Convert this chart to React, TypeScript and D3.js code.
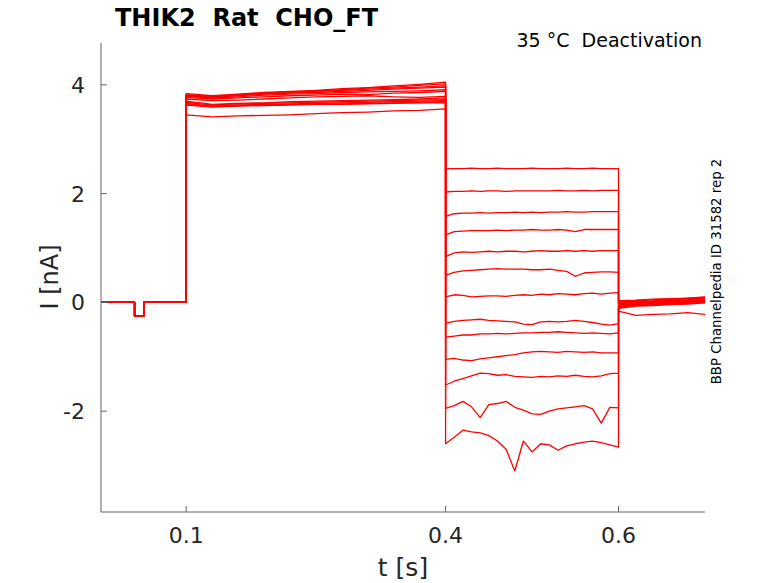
import React from 'react';
import * as d3 from 'd3';

// holding / prepulse part, shared by all sweeps
const preT = [0.0015, 0.02, 0.0403, 0.0403, 0.051, 0.051, 0.075, 0.1];
const preV = [0.0, 0.0, 0.0, -0.25, -0.25, 0.01, 0.01, 0.0];

// activation step 0.1 - 0.4 s
const stepT = [0.1, 0.13, 0.16, 0.19, 0.22, 0.25, 0.28, 0.31, 0.34, 0.37, 0.4];
const stepV = [
  [3.84, 3.8, 3.83, 3.86, 3.88, 3.9, 3.93, 3.95, 3.98, 4.01, 4.05],
  [3.82, 3.79, 3.82, 3.85, 3.87, 3.89, 3.91, 3.94, 3.96, 3.99, 4.02],
  [3.81, 3.78, 3.81, 3.84, 3.86, 3.88, 3.9, 3.92, 3.94, 3.96, 3.98],
  [3.8, 3.77, 3.8, 3.83, 3.85, 3.86, 3.88, 3.9, 3.92, 3.94, 3.96],
  [3.79, 3.76, 3.78, 3.81, 3.83, 3.84, 3.86, 3.87, 3.88, 3.89, 3.91],
  [3.77, 3.74, 3.76, 3.78, 3.8, 3.81, 3.83, 3.82, 3.85, 3.86, 3.88],
  [3.74, 3.71, 3.72, 3.74, 3.76, 3.78, 3.79, 3.8, 3.78, 3.77, 3.79],
  [3.7, 3.64, 3.66, 3.67, 3.69, 3.7, 3.71, 3.72, 3.73, 3.74, 3.76],
  [3.68, 3.63, 3.65, 3.66, 3.67, 3.68, 3.69, 3.7, 3.71, 3.72, 3.73],
  [3.66, 3.61, 3.63, 3.64, 3.65, 3.66, 3.67, 3.68, 3.69, 3.7, 3.71],
  [3.65, 3.6, 3.62, 3.63, 3.64, 3.65, 3.65, 3.66, 3.67, 3.68, 3.69],
  [3.63, 3.59, 3.61, 3.62, 3.63, 3.64, 3.64, 3.65, 3.66, 3.67, 3.67],
  [3.45, 3.41, 3.43, 3.44, 3.45, 3.47, 3.49, 3.5, 3.52, 3.53, 3.56],
];

// test pulses 0.4 - 0.6 s
const testT = [
  0.4, 0.41, 0.42, 0.43, 0.44, 0.45, 0.46, 0.47, 0.48, 0.49, 0.5,
  0.51, 0.52, 0.53, 0.54, 0.55, 0.56, 0.57, 0.58, 0.59, 0.6,
];
const testV = [
  [2.46, 2.46, 2.46, 2.47, 2.46, 2.46, 2.47, 2.46, 2.46, 2.46, 2.47, 2.46, 2.46, 2.46, 2.47, 2.46, 2.46, 2.47, 2.46, 2.46, 2.46],
  [2.03, 2.04, 2.04, 2.05, 2.04, 2.05, 2.05, 2.04, 2.05, 2.05, 2.05, 2.05, 2.05, 2.06, 2.05, 2.05, 2.06, 2.05, 2.06, 2.06, 2.06],
  [1.58, 1.63, 1.64, 1.64, 1.65, 1.64, 1.65, 1.65, 1.66, 1.65, 1.66, 1.65, 1.66, 1.66, 1.67, 1.66, 1.66, 1.67, 1.67, 1.67, 1.67],
  [1.24, 1.3, 1.31, 1.32, 1.32, 1.32, 1.33, 1.32, 1.33, 1.33, 1.34, 1.33, 1.33, 1.34, 1.33, 1.3, 1.34, 1.34, 1.34, 1.34, 1.34],
  [0.84, 0.91, 0.93, 0.92, 0.93, 0.94, 0.93, 0.94, 0.94, 0.93, 0.94, 0.95, 0.94, 0.94, 0.95, 0.94, 0.95, 0.94, 0.95, 0.95, 0.95],
  [0.5, 0.55, 0.58, 0.59, 0.6, 0.61, 0.62, 0.61, 0.61, 0.61, 0.6, 0.6, 0.61, 0.59, 0.57, 0.48, 0.54, 0.55, 0.56, 0.56, 0.55],
  [0.1, 0.14, 0.13, 0.1, 0.11, 0.12, 0.12, 0.11, 0.13, 0.14, 0.13, 0.15, 0.14, 0.16, 0.15, 0.14, 0.16, 0.17, 0.15, 0.17, 0.18],
  [-0.38, -0.35, -0.33, -0.32, -0.31, -0.33, -0.34, -0.35, -0.36, -0.4, -0.41, -0.36, -0.35, -0.36, -0.35, -0.33, -0.35, -0.37, -0.4, -0.42, -0.39],
  [-0.64, -0.62, -0.6, -0.6, -0.58, -0.58, -0.57, -0.58, -0.57, -0.56, -0.56, -0.55, -0.55, -0.54, -0.55, -0.56, -0.57, -0.56, -0.57, -0.58, -0.56],
  [-1.05, -1.03, -1.06, -1.07, -1.04, -1.02, -1.0, -0.98, -0.96, -0.93, -0.91, -0.9, -0.91, -0.92, -0.9, -0.91, -0.92, -0.91, -0.93, -0.93, -0.93],
  [-1.52, -1.45, -1.4, -1.35, -1.3, -1.31, -1.34, -1.33, -1.36, -1.37, -1.38, -1.36, -1.37, -1.35, -1.36, -1.34, -1.36, -1.37, -1.35, -1.31, -1.3],
  [-1.95, -1.9, -1.82, -1.92, -2.12, -1.88, -1.86, -1.82, -1.93, -1.98, -2.05, -2.06, -2.0, -1.96, -1.94, -1.92, -1.9, -1.96, -2.22, -1.93, -1.94],
  [-2.6, -2.48, -2.35, -2.38, -2.4, -2.45, -2.55, -2.7, -3.1, -2.55, -2.75, -2.6, -2.62, -2.72, -2.64, -2.6, -2.57, -2.55, -2.58, -2.62, -2.66],
];

// tail 0.6 - 0.7 s
const tailT = [0.6, 0.62, 0.64, 0.66, 0.68, 0.7];
const tailV = [
  [-0.16, -0.24, -0.22, -0.21, -0.19, -0.22],
  [0.03, 0.04, 0.06, 0.07, 0.08, 0.1],
  [0.01, 0.03, 0.05, 0.06, 0.08, 0.09],
  [0.0, 0.02, 0.03, 0.05, 0.07, 0.08],
  [-0.02, 0.01, 0.02, 0.04, 0.05, 0.07],
  [-0.03, 0.0, 0.01, 0.03, 0.04, 0.06],
  [-0.05, -0.01, 0.0, 0.02, 0.03, 0.05],
  [-0.06, -0.02, -0.01, 0.01, 0.02, 0.04],
  [-0.07, -0.03, -0.02, 0.0, 0.01, 0.03],
  [-0.08, -0.04, -0.03, -0.01, 0.0, 0.02],
  [-0.09, -0.05, -0.04, -0.02, -0.01, 0.01],
  [-0.1, -0.06, -0.05, -0.03, -0.02, 0.0],
  [-0.11, -0.07, -0.06, -0.04, -0.03, -0.01],
];

const xTicks = [0.1, 0.4, 0.6];
const yTicks = [4, 2, 0, -2];

const W = 778;
const H = 583;
const left = 101, right = 705, top = 43, bottom = 512;

export default function App() {
  const x = d3.scaleLinear().domain([0.0015, 0.7]).range([left, right]);
  const y = d3.scaleLinear().domain([-3.855, 4.77]).range([bottom, top]);

  const line = d3
    .line<[number, number]>()
    .x((d) => x(d[0]))
    .y((d) => y(d[1]));

  const sweeps = testV.map((tv, i) => {
    const pts: [number, number][] = [];
    preT.forEach((t, j) => pts.push([t, preV[j]]));
    stepT.forEach((t, j) => pts.push([t, stepV[i][j]]));
    testT.forEach((t, j) => pts.push([t, tv[j]]));
    tailT.forEach((t, j) => pts.push([t, tailV[i][j]]));
    return pts;
  });

  const font = 'DejaVu Sans, sans-serif';
  const axisCol = '#666666';
  const textCol = '#262626';

  return (
    <svg
      width={W}
      height={H}
      style={{ position: 'fixed', left: 0, top: 0, background: '#fff' }}
      fontFamily={font}
    >
      <rect width={W} height={H} fill="#fff" />
      <defs>
        <clipPath id="plot">
          <rect x={left} y={top} width={right - left} height={bottom - top} />
        </clipPath>
      </defs>

      {/* traces */}
      <g clipPath="url(#plot)">
        {sweeps.map((pts, i) => (
          <path key={i} d={line(pts) || ''} fill="none" stroke="#ff0000" strokeWidth={1.3} strokeLinejoin="round" />
        ))}
      </g>

      {/* axes */}
      <line x1={left} y1={top} x2={left} y2={bottom} stroke={axisCol} strokeWidth={1} />
      <line x1={left} y1={bottom} x2={right} y2={bottom} stroke={axisCol} strokeWidth={1} />
      {xTicks.map((t) => (
        <g key={t}>
          <line x1={x(t)} y1={bottom} x2={x(t)} y2={bottom - 6} stroke={axisCol} />
          <text x={x(t)} y={543} textAnchor="middle" fontSize={22} fill={textCol}>
            {t}
          </text>
        </g>
      ))}
      {yTicks.map((v) => (
        <g key={v}>
          <line x1={left} y1={y(v)} x2={left + 6} y2={y(v)} stroke={axisCol} />
          <text x={85} y={y(v) + 8} textAnchor="end" fontSize={22} fill={textCol}>
            {v}
          </text>
        </g>
      ))}

      {/* labels */}
      <text x={403} y={576} textAnchor="middle" fontSize={25} fill={textCol}>
        t [s]
      </text>
      <text
        x={58}
        y={277}
        textAnchor="middle"
        fontSize={24}
        fill={textCol}
        transform="rotate(-90, 58, 277)"
      >
        I [nA]
      </text>
      <text x={115} y={26} fontSize={24} fontWeight="bold" fill="#000" style={{ whiteSpace: 'pre' }}>
        {'THIK2  Rat  CHO_FT'}
      </text>
      <text x={702} y={47} textAnchor="end" fontSize={19} fill="#000" style={{ whiteSpace: 'pre' }}>
        {'35 °C  Deactivation'}
      </text>
      <text
        x={721}
        y={271.5}
        textAnchor="middle"
        fontSize={13.3}
        fill="#000"
        transform="rotate(-90, 721, 271.5)"
      >
        BBP Channelpedia ID 31582 rep 2
      </text>
    </svg>
  );
}
